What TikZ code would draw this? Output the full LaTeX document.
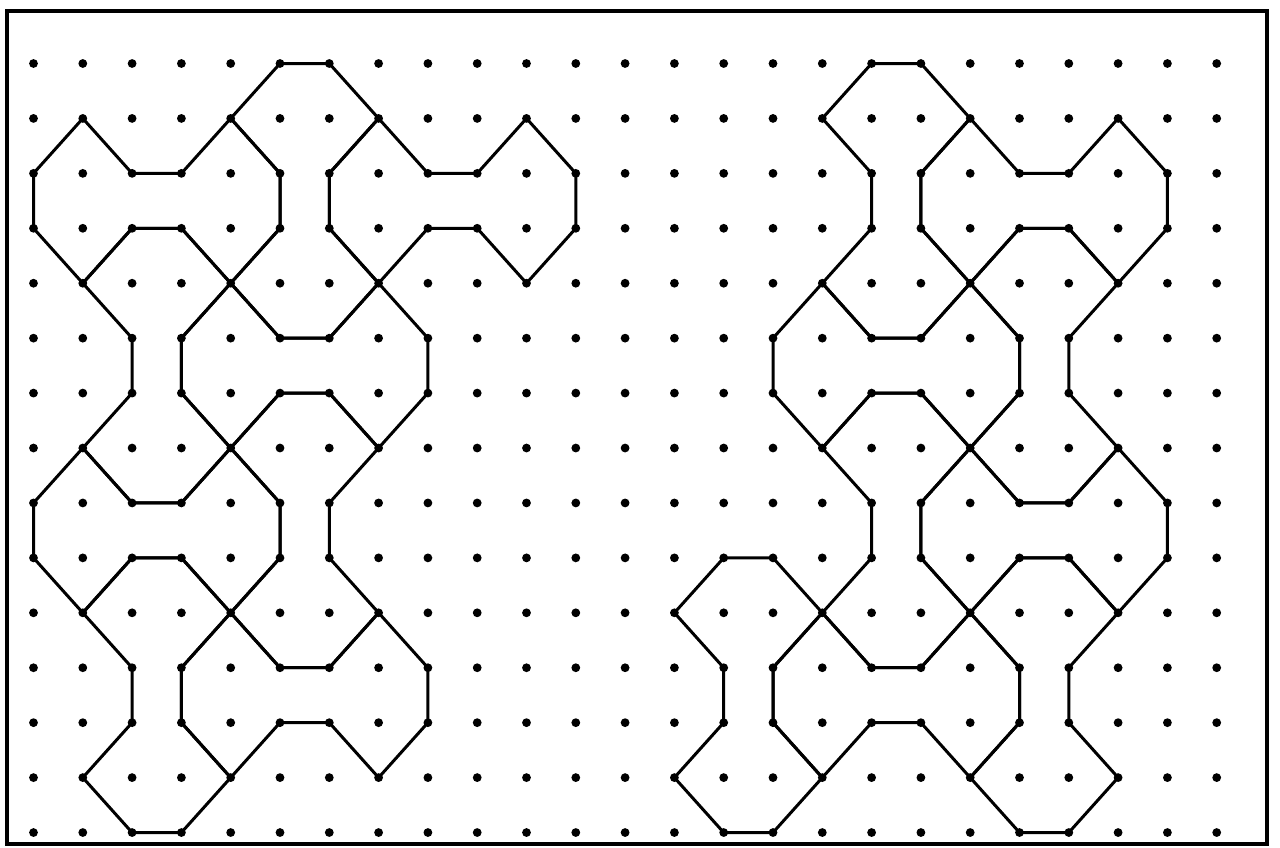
\documentclass[tikz,border=0pt]{standalone}
\begin{document}
\begin{tikzpicture}[x=1pt,y=1pt,
  bone/.style={line width=3pt,line join=round,line cap=round},
  gdot/.style={fill=black},
  frame/.style={line width=3.2pt}]
\useasboundingbox (0,0) rectangle (1280,-847);
\draw[frame] (7,-11) rectangle (1267,-844);
\newcommand\hbonetile[2]{\draw[bone] (#1,#2+1) -- (#1+1,#2) -- (#1+2,#2+1) -- (#1+3,#2+1) -- (#1+4,#2) -- (#1+5,#2+1) -- (#1+5,#2+2) -- (#1+4,#2+3) -- (#1+3,#2+2) -- (#1+2,#2+2) -- (#1+1,#2+3) -- (#1,#2+2) -- cycle;}
\newcommand\vbonetile[2]{\draw[bone] (#1+1,#2) -- (#1+2,#2) -- (#1+3,#2+1) -- (#1+2,#2+2) -- (#1+2,#2+3) -- (#1+3,#2+4) -- (#1+2,#2+5) -- (#1+1,#2+5) -- (#1,#2+4) -- (#1+1,#2+3) -- (#1+1,#2+2) -- (#1,#2+1) -- cycle;}
\begin{scope}[shift={(33.5,-63.5)},x=49.3pt,y=-54.93pt]
  \foreach \i in {0,...,24}{
    \foreach \j in {0,...,14}{
      \coordinate (p-\i-\j) at (\i,\j);
      \fill[gdot] (p-\i-\j) circle[radius=4.4pt];
    }
  }
  % left figure
  \hbonetile{0}{1}
  \vbonetile{4}{0}
  \hbonetile{6}{1}
  \vbonetile{1}{3}
  \hbonetile{3}{4}
  \hbonetile{0}{7}
  \vbonetile{4}{6}
  \vbonetile{1}{9}
  \hbonetile{3}{10}
  % right figure
  \vbonetile{16}{0}
  \hbonetile{18}{1}
  \hbonetile{15}{4}
  \vbonetile{19}{3}
  \vbonetile{16}{6}
  \hbonetile{18}{7}
  \vbonetile{13}{9}
  \hbonetile{15}{10}
  \vbonetile{19}{9}
\end{scope}
\end{tikzpicture}
\end{document}
